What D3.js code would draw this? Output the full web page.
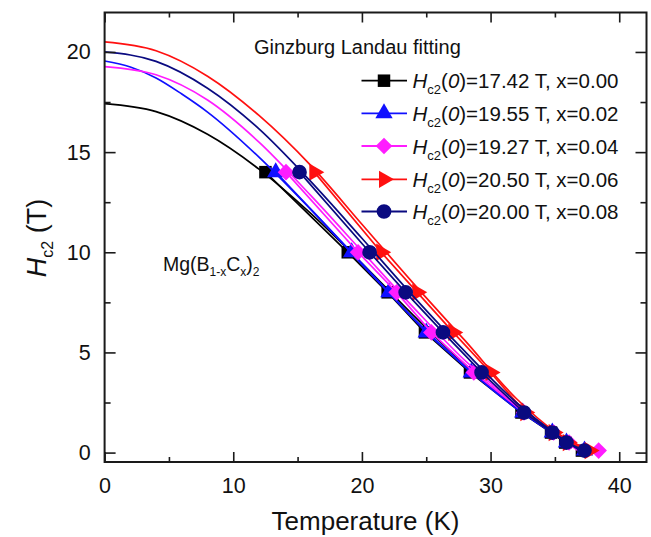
<!DOCTYPE html>
<html>
<head>
<meta charset="utf-8">
<script src="https://cdn.jsdelivr.net/npm/d3@7"></script>
<style>
  html, body { margin: 0; padding: 0; background: #fff; }
  svg { display: block; font-family: "Liberation Sans", Arial, sans-serif; }
</style>
</head>
<body>
<svg id="chart" width="651" height="537"></svg>
<script>
// Measured upper critical field levels (T) shared by all samples
const fieldLevels = [14, 10, 8, 6, 4, 2, 1, 0.5, 0.1];

// Temperatures (K) at which each field level is reached, per carbon content
const tempX000 = [12.5, 18.9, 22.0, 24.9, 28.4, 32.4, 34.7, 35.8, 37.1];
const tempX002 = [13.3, 19.2, 22.1, 25.0, 28.5, 32.5, 34.8, 35.9, 37.3];
const tempX004 = [14.1, 19.7, 22.7, 25.4, 28.7, 32.6, 34.9, 36.1, 38.4];
const tempX006 = [16.3, 21.5, 24.3, 27.1, 30.0, 32.7, 34.9, 36.0, 37.7];
const tempX008 = [15.15, 20.6, 23.4, 26.3, 29.3, 32.6, 34.8, 35.9, 37.3];

// Ginzburg-Landau fitted curves, sampled (T in K, Hc2 in T)
const fitT000 = [0, 4, 8, 12, 16, 20, 24, 28, 32, 35, 37.2];
const fitH000 = [17.42, 17.02, 15.89, 14.15, 11.95, 9.45, 6.85, 4.4, 2.3, 0.9, 0];
const fitT002 = [0, 2, 4, 6, 8, 12, 16, 20, 24, 28, 32, 35, 37.2];
const fitH002 = [19.55, 19.25, 18.7, 17.9, 17.0, 14.75, 12.15, 9.4, 6.7, 4.3, 2.2, 0.9, 0];
const fitT004 = [0, 4, 8, 12, 16, 20, 24, 28, 32, 35, 37.0];
const fitH004 = [19.27, 18.86, 17.6, 15.5, 12.85, 10.05, 7.25, 4.6, 2.4, 0.95, 0];
const fitT006 = [0, 4, 8, 12, 16, 20, 24, 28, 32, 35, 38.0];
const fitH006 = [20.5, 20.06, 18.79, 16.83, 14.35, 11.4, 8.45, 5.6, 2.7, 1.05, 0];
const fitT008 = [0, 4, 8, 12, 16, 20, 24, 28, 32, 35, 37.2];
const fitH008 = [20.0, 19.53, 18.19, 16.16, 13.55, 10.7, 7.8, 5.05, 2.5, 0.95, 0];

// Legend values
const hc2Zero = ["17.42", "19.55", "19.27", "20.50", "20.00"];
const carbon = ["0.00", "0.02", "0.04", "0.06", "0.08"];
const colors = ["#000000", "#1010ff", "#ff1cff", "#ff1010", "#0a0a80"];
const shapes = ["square", "triangleUp", "diamond", "triangleRight", "circle"];

// Axis ticks
const xMajor = [0, 10, 20, 30, 40];
const xMinor = [5, 15, 25, 35];
const yMajor = [0, 5, 10, 15, 20];
const yMinor = [2.5, 7.5, 12.5, 17.5];

const series = [
  { t: tempX000, ft: fitT000, fh: fitH000 },
  { t: tempX002, ft: fitT002, fh: fitH002 },
  { t: tempX004, ft: fitT004, fh: fitH004 },
  { t: tempX006, ft: fitT006, fh: fitH006 },
  { t: tempX008, ft: fitT008, fh: fitH008 }
].map((s, i) => ({
  points: s.t.map((T, j) => [T, fieldLevels[j]]),
  fit: s.ft.map((T, j) => [T, s.fh[j]]),
  color: colors[i],
  shape: shapes[i],
  h0: hc2Zero[i],
  x: carbon[i]
}));

const svg = d3.select("#chart");
const L = 104.6, R = 646.5, T = 12.5, B = 462;

const x = d3.scaleLinear().domain([0, 42.12]).range([L, R]);
const y = d3.scaleLinear().domain([-0.47, 21.97]).range([B, T]);

// marker path generator
function markerPath(shape) {
  if (shape === "square") return d3.symbol(d3.symbolSquare, 156)();
  if (shape === "circle") return d3.symbol(d3.symbolCircle, 170)();
  if (shape === "triangleUp" || shape === "triangleRight") return d3.symbol(d3.symbolTriangle, 130)();
  if (shape === "diamond") {
    const r = 8.3;
    return `M0,${-r}L${r},0L0,${r}L${-r},0Z`;
  }
}
function markerRotate(shape) { return shape === "triangleRight" ? " rotate(90)" : ""; }

const plot = svg.append("g");
const line = d3.line().x(d => x(d[0])).y(d => y(d[1]));
const fitLine = d3.line().x(d => x(d[0])).y(d => y(d[1])).curve(d3.curveMonotoneX);

series.forEach(s => {
  plot.append("path").attr("d", fitLine(s.fit))
    .attr("fill", "none").attr("stroke", s.color).attr("stroke-width", 1.7);
  plot.append("path").attr("d", line(s.points))
    .attr("fill", "none").attr("stroke", s.color).attr("stroke-width", 1.7);
  plot.selectAll(null).data(s.points).enter().append("path")
    .attr("d", markerPath(s.shape))
    .attr("transform", d => `translate(${x(d[0])},${y(d[1])})${markerRotate(s.shape)}`)
    .attr("fill", s.color);
});

// Axes: inward ticks on all four sides
const axisColor = "#1a1a1a";
function styleAxis(g) {
  g.select(".domain").remove();
  g.selectAll("line").attr("stroke", axisColor).attr("stroke-width", 1.6);
  g.selectAll("text").attr("fill", "#111").attr("font-size", 21.5)
    .attr("font-family", "'Liberation Sans', Arial, sans-serif");
}
svg.append("g").attr("transform", `translate(0,${B})`)
  .call(d3.axisBottom(x).tickValues(xMajor).tickSize(-10).tickPadding(16).tickFormat(d3.format("d")))
  .call(styleAxis);
svg.append("g").attr("transform", `translate(0,${B})`)
  .call(d3.axisBottom(x).tickValues(xMinor).tickSize(-5).tickFormat(""))
  .call(styleAxis);
svg.append("g").attr("transform", `translate(0,${T})`)
  .call(d3.axisTop(x).tickValues(xMajor).tickSize(-10).tickFormat(""))
  .call(styleAxis);
svg.append("g").attr("transform", `translate(0,${T})`)
  .call(d3.axisTop(x).tickValues(xMinor).tickSize(-5).tickFormat(""))
  .call(styleAxis);
svg.append("g").attr("transform", `translate(${L},0)`)
  .call(d3.axisLeft(y).tickValues(yMajor).tickSize(-11).tickPadding(14).tickFormat(d3.format("d")))
  .call(styleAxis);
svg.append("g").attr("transform", `translate(${L},0)`)
  .call(d3.axisLeft(y).tickValues(yMinor).tickSize(-6).tickFormat(""))
  .call(styleAxis);
svg.append("g").attr("transform", `translate(${R},0)`)
  .call(d3.axisRight(y).tickValues(yMajor).tickSize(-11).tickFormat(""))
  .call(styleAxis);
svg.append("g").attr("transform", `translate(${R},0)`)
  .call(d3.axisRight(y).tickValues(yMinor).tickSize(-6).tickFormat(""))
  .call(styleAxis);

svg.append("rect").attr("x", L).attr("y", T).attr("width", R - L).attr("height", B - T)
  .attr("fill", "none").attr("stroke", axisColor).attr("stroke-width", 2);

// Axis titles
svg.append("text").attr("x", 365.5).attr("y", 530).attr("text-anchor", "middle")
  .attr("font-size", 26).attr("fill", "#111").text("Temperature (K)");

const yTitle = svg.append("text")
  .attr("transform", "translate(46,238) rotate(-90)")
  .attr("text-anchor", "middle").attr("font-size", 27).attr("fill", "#111");
yTitle.append("tspan").attr("font-style", "italic").text("H");
yTitle.append("tspan").attr("font-size", 16).attr("dy", 7).text("c2");
yTitle.append("tspan").attr("dy", -7).text(" (T)");

// Annotation texts
svg.append("text").attr("x", 254).attr("y", 54).attr("font-size", 20).attr("fill", "#111")
  .text("Ginzburg Landau fitting");

const comp = svg.append("text").attr("x", 163).attr("y", 271).attr("font-size", 19.5).attr("fill", "#111");
comp.append("tspan").text("Mg(B");
comp.append("tspan").attr("font-size", 12).attr("dy", 5).text("1-x");
comp.append("tspan").attr("dy", -5).text("C");
comp.append("tspan").attr("font-size", 12).attr("dy", 5).text("x");
comp.append("tspan").attr("dy", -5).text(")");
comp.append("tspan").attr("font-size", 12).attr("dy", 5).text("2");

// Legend
const legendRows = [80.7, 113.3, 146, 179.3, 211.5];
series.forEach((s, i) => {
  const cy = legendRows[i];
  const g = svg.append("g");
  g.append("line").attr("x1", 361.5).attr("x2", 407).attr("y1", cy).attr("y2", cy)
    .attr("stroke", s.color).attr("stroke-width", 1.8);
  g.append("path").attr("d", markerPath(s.shape))
    .attr("transform", `translate(384,${cy})${markerRotate(s.shape)}`).attr("fill", s.color);
  const t = g.append("text").attr("x", 412.5).attr("y", cy + 7.5).attr("font-size", 20.5).attr("fill", "#111");
  t.append("tspan").attr("font-style", "italic").text("H");
  t.append("tspan").attr("font-size", 13).attr("dy", 6).text("c2");
  t.append("tspan").attr("dy", -6).text("(");
  t.append("tspan").attr("font-style", "italic").text("0");
  t.append("tspan").text(`)=${s.h0} T, x=${s.x}`);
});
</script>
</body>
</html>
